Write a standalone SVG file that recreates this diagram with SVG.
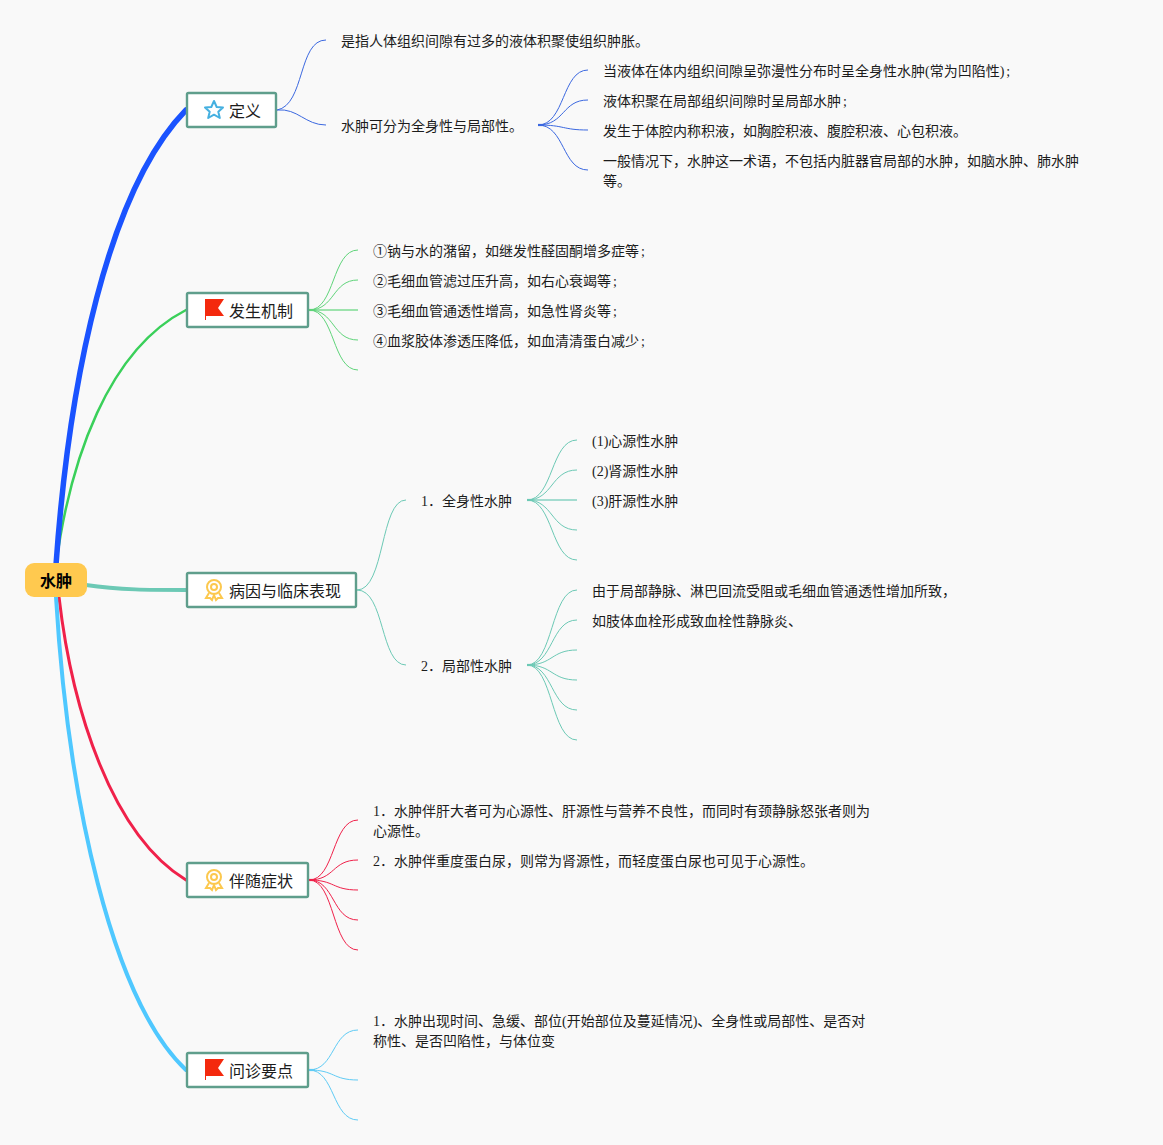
<svg xmlns="http://www.w3.org/2000/svg" width="1163" height="1145" viewBox="0 0 1163 1145">
<style>
text{font-family:"Liberation Serif","Noto Sans CJK SC",serif;font-size:14px;fill:#1c1c1c}
.t{font-family:"Noto Sans CJK SC","Liberation Sans",sans-serif;font-size:16px;fill:#1c1c1c}
.c{font-family:"Noto Sans CJK SC","Liberation Sans",sans-serif;font-size:16px;font-weight:700;fill:#000}
.b{fill:#fff;stroke:#5f9e8c;stroke-width:2.4}
.m{fill:none;stroke-linecap:round}
.l{fill:none;stroke-width:1}
.s{fill:none;stroke-width:1.5;opacity:.8}
.h{fill:none;stroke-width:2.2}
.star{fill:none;stroke:#45b0e0;stroke-width:2;stroke-linejoin:round}
.flag{fill:#f4290d}
.med{fill:none;stroke:#fcc84e;stroke-width:2}
</style>
<defs>
<g id="star"><path class="star" d="M0 -9 L2.7 -3 L9 -2.6 L4.3 1.7 L5.8 8 L0 4.7 L-5.8 8 L-4.3 1.7 L-9 -2.6 L-2.7 -3Z"/></g>
<g id="flag"><path class="flag" d="M-10 -11 H9 L3 -2 L9 6 H-9 V10 H-10Z"/></g>
<g id="medal"><circle class="med" cx="0" cy="-3" r="7"/><circle class="med" cx="0" cy="-3" r="3"/><path class="med" d="M-5 3 L-8 8 L-4 8 L-2 10 L0 5 L2 10 L4 8 L8 8 L5 3"/></g>
</defs>
<rect width="1163" height="1145" fill="#f9f9f9"/>
<g id="connectors">
<path class="m" stroke="#3ad05a" stroke-width="2.5" d="M56 565 C70 460 108 350 186 310"/>
<path class="m" stroke="#1a53ff" stroke-width="5.5" d="M56 565 C69 380 108 190 186 110"/>
<path class="m" stroke="#6cc9b5" stroke-width="4" d="M86 585 C120 590 150 590 186 590"/>
<path class="m" stroke="#f0214a" stroke-width="3" d="M59 597 C72 710 112 835 186 880"/>
<path class="m" stroke="#4fc8ff" stroke-width="4" d="M56 597 C68 800 112 1000 186 1070"/>
<g stroke="#3b68e0">
<path class="l" d="M277 110 C305 105 298 40 326 40"/>
<path class="l" d="M277 110 C298 108 305 125 326 125"/>
<path class="l" d="M538 125 C565 125 562 70 588 70"/>
<path class="l" d="M538 125 C565 125 562 100 588 100"/>
<path class="l" d="M538 125 C565 125 562 130 588 130"/>
<path class="l" d="M538 125 C565 125 562 170 588 170"/>
<path class="h" d="M538 125 H544"/>
</g>
<g stroke="#5fd47a">
<path class="l" d="M309 310 C335 310 332 250 358 250"/>
<path class="l" d="M309 310 C335 310 332 280 358 280"/>
<path class="s" d="M309 310 H358"/>
<path class="l" d="M309 310 C335 310 332 340 358 340"/>
<path class="l" d="M309 310 C335 310 332 370 358 370"/>
<path class="h" d="M309 310 H315"/>
</g>
<g stroke="#6cc9b5">
<path class="l" d="M357 590 C385 590 380 500 406 500"/>
<path class="l" d="M357 590 C385 590 380 665 406 665"/>
<path class="l" d="M527 500 C553 500 551 440 577 440"/>
<path class="l" d="M527 500 C553 500 551 470 577 470"/>
<path class="s" d="M527 500 H577"/>
<path class="l" d="M527 500 C553 500 551 530 577 530"/>
<path class="l" d="M527 500 C553 500 551 560 577 560"/>
<path class="h" d="M527 500 H533"/>
<path class="l" d="M527 665 C553 665 551 590 577 590"/>
<path class="l" d="M527 665 C553 665 551 620 577 620"/>
<path class="l" d="M527 665 C553 665 551 650 577 650"/>
<path class="l" d="M527 665 C553 665 551 680 577 680"/>
<path class="l" d="M527 665 C553 665 551 710 577 710"/>
<path class="l" d="M527 665 C553 665 551 740 577 740"/>
<path class="h" d="M527 665 H533"/>
</g>
<g stroke="#f0214a">
<path class="l" d="M309 880 C335 880 332 820 358 820"/>
<path class="l" d="M309 880 C335 880 332 860 358 860"/>
<path class="l" d="M309 880 C335 880 332 890 358 890"/>
<path class="l" d="M309 880 C335 880 332 920 358 920"/>
<path class="l" d="M309 880 C335 880 332 950 358 950"/>
<path class="h" d="M309 880 H315"/>
</g>
<g stroke="#5fcbf5">
<path class="l" d="M309 1070 C335 1070 332 1030 358 1030"/>
<path class="l" d="M309 1070 C335 1070 332 1080 358 1080"/>
<path class="l" d="M309 1070 C335 1070 332 1120 358 1120"/>
<path class="h" d="M309 1070 H315"/>
</g>
</g>
<g id="root"><rect x="25" y="563" width="62" height="34" rx="9" fill="#ffc94f"/><text class="c" x="56" y="587" text-anchor="middle">水肿</text></g>
<g id="n-def"><rect class="b" x="187" y="93" width="89" height="34" rx="1.5"/><use href="#star" x="214" y="110"/><text class="t" x="229" y="117">定义</text></g>
<g id="n-mech"><rect class="b" x="187" y="293" width="121" height="34" rx="1.5"/><use href="#flag" x="215" y="310"/><text class="t" x="229" y="317">发生机制</text></g>
<g id="n-cause"><rect class="b" x="187" y="573" width="169" height="34" rx="1.5"/><use href="#medal" x="214" y="590"/><text class="t" x="229" y="597">病因与临床表现</text></g>
<g id="n-sym"><rect class="b" x="187" y="863" width="121" height="34" rx="1.5"/><use href="#medal" x="214" y="880"/><text class="t" x="229" y="887">伴随症状</text></g>
<g id="n-ask"><rect class="b" x="187" y="1053" width="121" height="34" rx="1.5"/><use href="#flag" x="215" y="1070"/><text class="t" x="229" y="1077">问诊要点</text></g>
<g id="leaves">
<text x="341" y="46">是指人体组织间隙有过多的液体积聚使组织肿胀。</text>
<text x="341" y="131">水肿可分为全身性与局部性。</text>
<text x="603" y="76">当液体在体内组织间隙呈弥漫性分布时呈全身性水肿(常为凹陷性)<tspan dx="2">;</tspan></text>
<text x="603" y="106">液体积聚在局部组织间隙时呈局部水肿<tspan dx="2">;</tspan></text>
<text x="603" y="136">发生于体腔内称积液，如胸腔积液、腹腔积液、心包积液。</text>
<text x="603" y="166">一般情况下，水肿这一术语，不包括内脏器官局部的水肿，如脑水肿、肺水肿</text>
<text x="603" y="186">等。</text>
<text x="373" y="256">①钠与水的潴留，如继发性醛固酮增多症等<tspan dx="2">;</tspan></text>
<text x="373" y="286">②毛细血管滤过压升高，如右心衰竭等<tspan dx="2">;</tspan></text>
<text x="373" y="316">③毛细血管通透性增高，如急性肾炎等<tspan dx="2">;</tspan></text>
<text x="373" y="346">④血浆胶体渗透压降低，如血清清蛋白减少<tspan dx="2">;</tspan></text>
<text x="421" y="506">1．全身性水肿</text>
<text x="421" y="671">2．局部性水肿</text>
<text x="592" y="446">(1)心源性水肿</text>
<text x="592" y="476">(2)肾源性水肿</text>
<text x="592" y="506">(3)肝源性水肿</text>
<text x="592" y="596">由于局部静脉、淋巴回流受阻或毛细血管通透性增加所致，</text>
<text x="592" y="626">如肢体血栓形成致血栓性静脉炎、</text>
<text x="373" y="816">1．水肿伴肝大者可为心源性、肝源性与营养不良性，而同时有颈静脉怒张者则为</text>
<text x="373" y="836">心源性。</text>
<text x="373" y="866">2．水肿伴重度蛋白尿，则常为肾源性，而轻度蛋白尿也可见于心源性。</text>
<text x="373" y="1026">1．水肿出现时间、急缓、部位(开始部位及蔓延情况)、全身性或局部性、是否对</text>
<text x="373" y="1046">称性、是否凹陷性，与体位变</text>
</g>
</svg>
